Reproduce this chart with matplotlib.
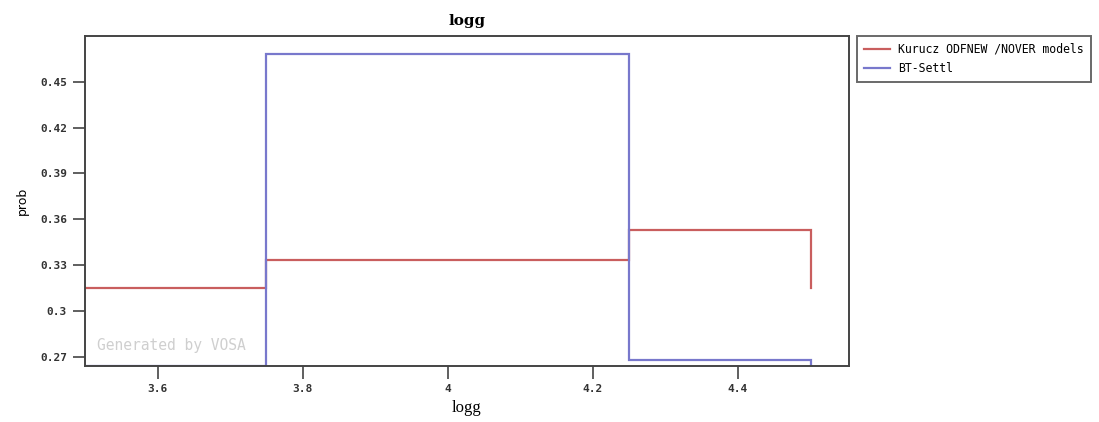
import numpy as np
import matplotlib
matplotlib.use("Agg")
import matplotlib.pyplot as plt

# logg bin edges and probability per bin for each model grid
bin_edges = [3.5, 3.75, 4.25, 4.5]
kurucz_prob = [0.315, 0.3335, 0.353]
btsettl_prob = [0.264, 0.468, 0.268]
series_names = ["Kurucz ODFNEW /NOVER models", "BT-Settl"]
series_colors = ["#c95e5e", "#7878cc"]

xticks = [3.6, 3.8, 4.0, 4.2, 4.4]
xtick_labels = ["3.6", "3.8", "4", "4.2", "4.4"]
yticks = [0.27, 0.30, 0.33, 0.36, 0.39, 0.42, 0.45]
ytick_labels = ["0.27", "0.3", "0.33", "0.36", "0.39", "0.42", "0.45"]


def step_outline(edges, probs):
    # histogram outline, closed back down to the first bin's level
    xs, ys = [edges[0]], [probs[0]]
    for i, p in enumerate(probs):
        xs += [edges[i], edges[i + 1]]
        ys += [p, p]
    xs.append(edges[-1]); ys.append(probs[0])
    return xs, ys


fig = plt.figure(figsize=(10.99, 4.22), dpi=100)
ax = fig.add_axes([0.0773, 0.1327, 0.6952, 0.782])

mono = "DejaVu Sans Mono"
for probs, name, col in zip([kurucz_prob, btsettl_prob], series_names, series_colors):
    xs, ys = step_outline(bin_edges, probs)
    ax.plot(xs, ys, color=col, lw=1.6, label=name, solid_joinstyle="miter")

ax.set_xlim(3.5, 4.553)
ax.set_ylim(min(btsettl_prob), 0.48)
ax.set_xticks(xticks)
ax.set_xticklabels(xtick_labels, family=mono, fontsize=8, fontweight="bold",
                   color="#333333")
ax.set_yticks(yticks)
ax.set_yticklabels(ytick_labels, family=mono, fontsize=8, fontweight="bold",
                   color="#333333")
ax.tick_params(direction="out", length=9, width=1.2, color="#444444", pad=4)
for sp in ax.spines.values():
    sp.set_color("#444444")
    sp.set_linewidth(1.4)

ax.text(0.016, 0.05, "Generated by VOSA", transform=ax.transAxes,
        family=mono, fontsize=10.5, color="#cfcfcf")

ax.set_title("logg", family="DejaVu Serif", fontweight="bold", fontsize=11, pad=8)
ax.set_xlabel("logg", family="Liberation Serif", fontsize=12, labelpad=4)
ax.set_ylabel("prob", family="DejaVu Sans", fontsize=9, labelpad=8)

leg = fig.legend(loc="upper left", bbox_to_anchor=(857 / 1099, 1 - 36 / 422),
                 prop={"family": mono, "size": 8.3}, frameon=True, fancybox=False,
                 handlelength=2.3, borderpad=0.6, labelspacing=0.55,
                 handletextpad=0.7, borderaxespad=0)
leg.get_frame().set_edgecolor("#444444")
leg.get_frame().set_linewidth(1.4)

fig.savefig("out.png", dpi=100)
